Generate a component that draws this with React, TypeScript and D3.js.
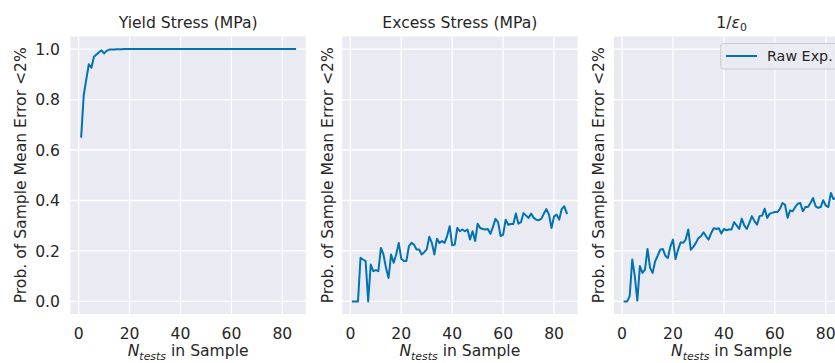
import React from "react";
import * as d3 from "d3";

const N_TESTS = d3.range(1, 86);

const YIELD_STRESS = [
  0.653, 0.818, 0.88, 0.94, 0.926, 0.97, 0.979, 0.988, 0.995, 0.983,
  0.993, 0.998, 0.998, 0.998, 0.999, 0.999, 0.999, 1.0, 1.0, 1.0,
  1.0, 1.0, 1.0, 1.0, 1.0, 1.0, 1.0, 1.0, 1.0, 1.0,
  1.0, 1.0, 1.0, 1.0, 1.0, 1.0, 1.0, 1.0, 1.0, 1.0,
  1.0, 1.0, 1.0, 1.0, 1.0, 1.0, 1.0, 1.0, 1.0, 1.0,
  1.0, 1.0, 1.0, 1.0, 1.0, 1.0, 1.0, 1.0, 1.0, 1.0,
  1.0, 1.0, 1.0, 1.0, 1.0, 1.0, 1.0, 1.0, 1.0, 1.0,
  1.0, 1.0, 1.0, 1.0, 1.0, 1.0, 1.0, 1.0, 1.0, 1.0,
  1.0, 1.0, 1.0, 1.0, 1.0,
];

const EXCESS_STRESS = [
  0.0, 0.0, 0.0, 0.173, 0.166, 0.16, 0.0, 0.146, 0.12, 0.124,
  0.12, 0.212, 0.186, 0.133, 0.093, 0.186, 0.153, 0.186, 0.232, 0.169,
  0.16, 0.16, 0.219, 0.232, 0.225, 0.206, 0.206, 0.186, 0.195, 0.206,
  0.256, 0.232, 0.186, 0.248, 0.232, 0.239, 0.232, 0.259, 0.298, 0.222,
  0.225, 0.291, 0.278, 0.285, 0.278, 0.285, 0.245, 0.278, 0.239, 0.308,
  0.291, 0.287, 0.285, 0.287, 0.268, 0.295, 0.327, 0.314, 0.259, 0.265,
  0.324, 0.304, 0.307, 0.307, 0.348, 0.308, 0.314, 0.35, 0.34, 0.331,
  0.348, 0.331, 0.324, 0.322, 0.327, 0.348, 0.366, 0.344, 0.291, 0.337,
  0.344, 0.324, 0.366, 0.377, 0.35,
];

const INV_EPS0 = [
  0.0, 0.0, 0.021, 0.166, 0.1, 0.003, 0.14, 0.113, 0.126, 0.208,
  0.133, 0.113, 0.159, 0.181, 0.205, 0.208, 0.181, 0.172, 0.218, 0.245,
  0.168, 0.205, 0.234, 0.232, 0.245, 0.285, 0.205, 0.216, 0.232, 0.251,
  0.258, 0.274, 0.258, 0.245, 0.271, 0.29, 0.287, 0.29, 0.269, 0.287,
  0.282, 0.285, 0.285, 0.314, 0.301, 0.287, 0.328, 0.301, 0.287, 0.311,
  0.338, 0.318, 0.304, 0.338, 0.34, 0.367, 0.331, 0.348, 0.351, 0.354,
  0.354, 0.367, 0.39, 0.383, 0.331, 0.361, 0.357, 0.374, 0.387, 0.39,
  0.357, 0.374, 0.374, 0.39, 0.41, 0.377, 0.371, 0.374, 0.401, 0.38,
  0.374, 0.43, 0.405, 0.41, 0.42,
];

const SERIES = [YIELD_STRESS, EXCESS_STRESS, INV_EPS0];
const TITLES = ["Yield Stress (MPa)", "Excess Stress (MPa)", "1/ε0"];
const X_TICKS = [0, 20, 40, 60, 80];
const Y_TICKS = [0, 0.2, 0.4, 0.6, 0.8, 1.0];
const Y_LABEL = "Prob. of Sample Mean Error <2%";
const LEGEND_LABEL = "Raw Exp.";

const W = 835;
const H = 363;
const PANEL_LEFTS = [70.5, 342.2, 613.9];
const PANEL_W = 235.3;
const TOP = 36.5;
const BOTTOM = 314;
const FONT = "'DejaVu Sans', sans-serif";
const FS = 15.6;
const TEXT = "#262626";
const BG = "#EAEAF2";
const LINE = "#0173B2";

function Title({ i, x }: { i: number; x: number }) {
  if (i === 2) {
    return (
      <text x={x} y={28.3} textAnchor="middle" fontSize={FS} fill={TEXT} fontFamily={FONT}>
        <tspan>1/</tspan>
        <tspan fontStyle="italic">ε</tspan>
        <tspan fontSize={FS * 0.7} dy={3}>0</tspan>
      </text>
    );
  }
  return (
    <text x={x} y={28.3} textAnchor="middle" fontSize={FS} fill={TEXT} fontFamily={FONT}>
      {TITLES[i]}
    </text>
  );
}

function Panel({ i }: { i: number }) {
  const left = PANEL_LEFTS[i];
  const x = d3.scaleLinear().domain([-3.2, 89.2]).range([left, left + PANEL_W]);
  const y = d3.scaleLinear().domain([-0.05, 1.05]).range([BOTTOM, TOP]);
  const line = d3
    .line<number>()
    .x((_, k) => x(N_TESTS[k]))
    .y((d) => y(d));
  const cx = left + PANEL_W / 2;
  const labelX = i === 0 ? 25.8 : left - 9.5;
  const cy = (TOP + BOTTOM) / 2;
  return (
    <g>
      <rect x={left} y={TOP} width={PANEL_W} height={BOTTOM - TOP} fill={BG} />
      {X_TICKS.map((t) => (
        <line key={"gx" + t} x1={x(t)} x2={x(t)} y1={TOP} y2={BOTTOM} stroke="#fff" strokeWidth={1.3} />
      ))}
      {Y_TICKS.map((t) => (
        <line key={"gy" + t} x1={left} x2={left + PANEL_W} y1={y(t)} y2={y(t)} stroke="#fff" strokeWidth={1.3} />
      ))}
      <path d={line(SERIES[i]) || ""} fill="none" stroke={LINE} strokeWidth={2} strokeLinejoin="round" strokeLinecap="square" />
      {X_TICKS.map((t) => (
        <text key={"tx" + t} x={x(t)} y={338.5} textAnchor="middle" fontSize={FS} fill={TEXT} fontFamily={FONT}>
          {t}
        </text>
      ))}
      {i === 0 &&
        Y_TICKS.map((t) => (
          <text key={"ty" + t} x={left - 10.5} y={y(t)} dy="0.36em" textAnchor="end" fontSize={FS} fill={TEXT} fontFamily={FONT}>
            {d3.format(".1f")(t)}
          </text>
        ))}
      <Title i={i} x={cx} />
      <text x={cx} y={356} textAnchor="middle" fontSize={FS} fill={TEXT} fontFamily={FONT}>
        <tspan fontStyle="italic">N</tspan>
        <tspan fontStyle="italic" fontSize={FS * 0.7} dy={3.5}>tests</tspan>
        <tspan dy={-3.5}> in Sample</tspan>
      </text>
      <text
        transform={`translate(${labelX},${cy}) rotate(-90)`}
        textAnchor="middle"
        fontSize={FS}
        fill={TEXT}
        fontFamily={FONT}
      >
        {Y_LABEL}
      </text>
      {i === 2 && (
        <g>
          <rect
            x={720.7}
            y={43.5}
            width={121}
            height={25.5}
            rx={3}
            fill={BG}
            fillOpacity={0.8}
            stroke="#CCCCCC"
            strokeWidth={1}
          />
          <line x1={726} x2={757} y1={56} y2={56} stroke={LINE} strokeWidth={2} />
          <text x={767} y={60.8} fontSize={14.3} fill={TEXT} fontFamily={FONT}>
            {LEGEND_LABEL}
          </text>
        </g>
      )}
    </g>
  );
}

export default function App() {
  return (
    <svg
      width={W}
      height={H}
      viewBox={`0 0 ${W} ${H}`}
      style={{ position: "absolute", left: 0, top: 0, background: "#fff" }}
    >
      {[0, 1, 2].map((i) => (
        <Panel key={i} i={i} />
      ))}
    </svg>
  );
}
